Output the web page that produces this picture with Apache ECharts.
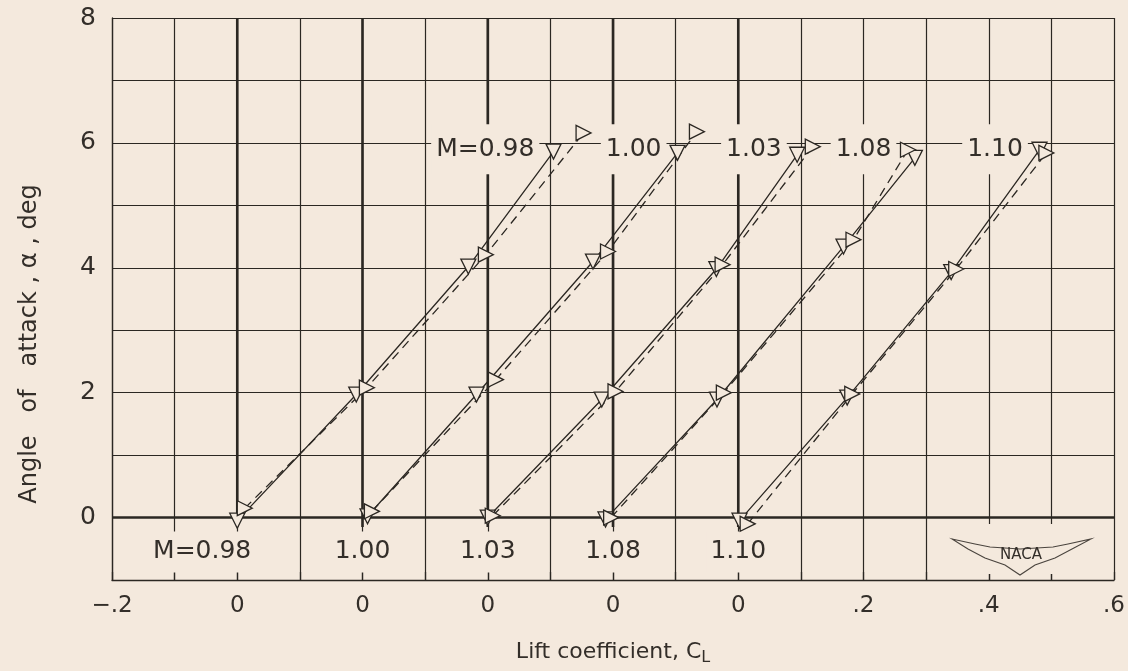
<!DOCTYPE html>
<html>
<head>
<meta charset="utf-8">
<script src="https://cdn.jsdelivr.net/npm/echarts@6/dist/echarts.min.js"></script>
<style>
  html, body { margin: 0; padding: 0; background: #f4e9dd; }
  #chart { width: 1128px; height: 671px; }
</style>
</head>
<body>
<div id="chart"></div>
<script>
// ---- Data (CL, alpha in deg), CL measured on each Mach number's own axis ----
const machNames = ['M=0.98', '1.00', '1.03', '1.08', '1.10'];
const machOffsets = [0, 0.2, 0.4, 0.6, 0.8]; // each CL scale shifted 0.2 to the right

// Solid-faired data (▽ symbols)
const M098_A = [[0.000, -0.05], [0.190, 1.97], [0.369, 4.02], [0.505, 5.86]];
const M100_A = [[0.008, 0.02], [0.182, 1.97], [0.368, 4.10], [0.503, 5.84]];
const M103_A = [[0.000, 0.00], [0.182, 1.89], [0.365, 3.98], [0.494, 5.81]];
const M108_A = [[-0.012, -0.03], [0.166, 1.89], [0.368, 4.34], [0.482, 5.76]];
const M110_A = [[0.002, -0.05], [0.174, 1.92], [0.340, 3.93], [0.481, 5.89]];
// Dashed-faired data (▷ symbols)
const M098_B = [[0.012, 0.15], [0.207, 2.08], [0.397, 4.21], [0.553, 6.16]];
const M100_B = [[0.015, 0.10], [0.213, 2.21], [0.392, 4.26], [0.534, 6.18]];
const M103_B = [[0.008, 0.03], [0.204, 2.02], [0.375, 4.05], [0.519, 5.94]];
const M108_B = [[-0.003, 0.00], [0.177, 2.00], [0.384, 4.45], [0.471, 5.89]];
const M110_B = [[0.015, -0.10], [0.182, 1.98], [0.348, 3.98], [0.492, 5.84]];

const setsA = [M098_A, M100_A, M103_A, M108_A, M110_A];
const setsB = [M098_B, M100_B, M103_B, M108_B, M110_B];

const xTickLabels = ['\u2212.2', '0', '0', '0', '0', '0', '.2', '.4', '.6'];
const yTickLabels = ['0', '2', '4', '6', '8'];

// ---- Styling ----
const BG = '#f4e9dd';
const INK = '#2b2722';
const TXT = '#332e29';
const FONT = "'DejaVu Sans', 'Liberation Sans', sans-serif";

// label anchor positions (layout, in axis units)
const topLabelPos = [[0.396, 5.9], [0.633, 5.9], [0.825, 5.9], [1.0, 5.9], [1.21, 5.9]];
const bottomLabelPos = [[-0.056, -0.55], [0.2, -0.55], [0.4, -0.55], [0.6, -0.55], [0.8, -0.55]];

const series = [];

// thick reference zero lines for each Mach number's CL scale
machOffsets.forEach(function (off) {
  series.push({
    type: 'line', silent: true, z: 2, symbol: 'none',
    data: [[off, -0.15], [off, 8]],
    lineStyle: { color: INK, width: 2.6 }
  });
});
// thick alpha = 0 line
series.push({
  type: 'line', silent: true, z: 2, symbol: 'none',
  data: [[-0.2, 0], [1.4, 0]],
  lineStyle: { color: INK, width: 2.6 }
});

function labelSeries(pos, texts, pad) {
  return {
    type: 'scatter', z: 3, silent: true, symbolSize: 0,
    itemStyle: { opacity: 1 },
    data: pos.map(function (p, i) { return [p[0], p[1], texts[i]]; }),
    label: {
      show: true, position: 'inside', opacity: 1,
      formatter: function (p) { return p.value[2]; },
      fontFamily: FONT, fontSize: 25, color: TXT,
      lineHeight: 26, backgroundColor: BG, padding: pad
    },
    emphasis: { disabled: true }
  };
}
series.push(labelSeries(topLabelPos, machNames, [12, 5, 12, 5]));
series.push(labelSeries(bottomLabelPos, machNames, [7, 4, 8, 4]));

// faired curves
machOffsets.forEach(function (off, i) {
  series.push({
    type: 'line', z: 4,
    data: setsA[i].map(function (d) { return [d[0] + off, d[1]]; }),
    symbol: 'triangle', symbolSize: 15, symbolRotate: 180,
    itemStyle: { color: BG, borderColor: INK, borderWidth: 1.3 },
    lineStyle: { color: INK, width: 1.3 }
  });
  series.push({
    type: 'line', z: 4,
    data: setsB[i].map(function (d) { return [d[0] + off, d[1]]; }),
    symbol: 'triangle', symbolSize: 15, symbolRotate: -90,
    itemStyle: { color: BG, borderColor: INK, borderWidth: 1.3 },
    lineStyle: { color: INK, width: 1.3, type: [9, 6] }
  });
});

const chart = echarts.init(document.getElementById('chart'), null, { renderer: 'canvas' });
chart.setOption({
  backgroundColor: BG,
  animation: false,
  grid: { left: 112, right: 12, top: 18, bottom: 88 },
  xAxis: {
    type: 'value', min: -0.2, max: 1.4, interval: 0.1,
    name: 'Lift coefficient, C{s|L}', nameLocation: 'middle', nameGap: 58,
    nameTextStyle: {
      fontFamily: FONT, fontSize: 22, color: TXT, padding: [0, 0, 0, 0],
      rich: { s: { fontFamily: FONT, fontSize: 16, color: TXT, padding: [12, 0, 0, 0] } }
    },
    axisLine: { show: true, onZero: false, lineStyle: { color: INK, width: 1.3 } },
    axisTick: { show: true, inside: true, length: 8, lineStyle: { color: INK, width: 1.3 } },
    axisLabel: {
      fontFamily: FONT, fontSize: 23, color: TXT, margin: 15,
      formatter: function (v) {
        const k = Math.round(v * 10) + 2;
        return (k % 2 === 0) ? (xTickLabels[k / 2] || '') : '';
      }
    },
    splitLine: { show: true, lineStyle: { color: INK, width: 1.2 } }
  },
  yAxis: {
    type: 'value', min: -1, max: 8, interval: 1,
    name: 'Angle   of   attack , α , deg', nameLocation: 'middle', nameGap: 70,
    nameTextStyle: { fontFamily: FONT, fontSize: 24, color: TXT, padding: [0, 90, 0, 0] },
    axisLine: { show: true, onZero: false, lineStyle: { color: INK, width: 1.3 } },
    axisTick: { show: false },
    axisLabel: {
      fontFamily: FONT, fontSize: 25, color: TXT, margin: 16,
      formatter: function (v) {
        return (v >= 0 && v % 2 === 0) ? yTickLabels[v / 2] : '';
      }
    },
    splitLine: { show: true, lineStyle: { color: INK, width: 1.2 } }
  },
  graphic: [
    { type: 'rect', z: 100, shape: { x: 948, y: 524, width: 148, height: 50 }, style: { fill: BG } },
    {
      type: 'polygon', z: 101,
      shape: { points: [[952, 539], [975, 544], [990, 547], [1020, 549], [1053, 547], [1068, 544], [1091, 539],
                        [1072, 549], [1055, 558], [1035, 565], [1020, 575], [1005, 565],
                        [985, 558], [968, 549]] },
      style: { fill: 'none', stroke: '#4a443e', lineWidth: 1.1 }
    },
    {
      type: 'text', z: 102, x: 1021, y: 555,
      style: { text: 'NACA', fontFamily: FONT, fontSize: 15, fill: TXT,
               align: 'center', verticalAlign: 'middle' }
    }
  ],
  series: series
});
</script>
</body>
</html>
